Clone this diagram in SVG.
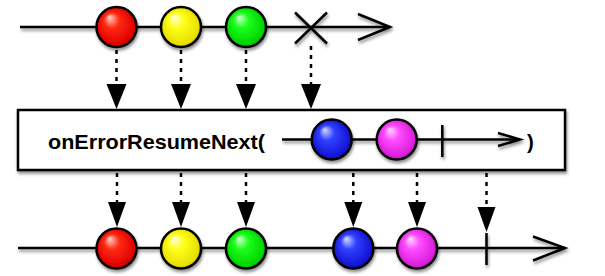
<svg xmlns="http://www.w3.org/2000/svg" width="605" height="276" viewBox="0 0 605 276">
<defs>
<filter id="sh" x="-20%" y="-20%" width="140%" height="160%">
<feDropShadow dx="1" dy="2.5" stdDeviation="1.6" flood-color="#000" flood-opacity="0.45"/>
</filter>
<radialGradient id="gRed" cx="0.5" cy="0.5" r="0.55" fx="0.32" fy="0.25">
<stop offset="0" stop-color="#ffd6cc"/><stop offset="0.35" stop-color="#ff2a12"/><stop offset="0.85" stop-color="#e00000"/><stop offset="1" stop-color="#a80000"/>
</radialGradient>
<radialGradient id="gYel" cx="0.5" cy="0.5" r="0.55" fx="0.32" fy="0.25">
<stop offset="0" stop-color="#ffffe6"/><stop offset="0.35" stop-color="#ffff1a"/><stop offset="0.85" stop-color="#e6e000"/><stop offset="1" stop-color="#b0a800"/>
</radialGradient>
<radialGradient id="gGrn" cx="0.5" cy="0.5" r="0.55" fx="0.32" fy="0.25">
<stop offset="0" stop-color="#d6ffd6"/><stop offset="0.35" stop-color="#1aff1a"/><stop offset="0.85" stop-color="#00d400"/><stop offset="1" stop-color="#009c00"/>
</radialGradient>
<radialGradient id="gBlu" cx="0.5" cy="0.5" r="0.55" fx="0.32" fy="0.25">
<stop offset="0" stop-color="#d6dcff"/><stop offset="0.35" stop-color="#3040ff"/><stop offset="0.85" stop-color="#1414d4"/><stop offset="1" stop-color="#00009c"/>
</radialGradient>
<radialGradient id="gPnk" cx="0.5" cy="0.5" r="0.55" fx="0.32" fy="0.25">
<stop offset="0" stop-color="#ffdcff"/><stop offset="0.35" stop-color="#ff4cff"/><stop offset="0.85" stop-color="#dc1edc"/><stop offset="1" stop-color="#9c009c"/>
</radialGradient>
</defs>
<style>
.ln{stroke:#000;stroke-width:2.5;fill:none;stroke-linecap:butt}
.hd{stroke:#000;stroke-width:2.5;fill:none;stroke-linejoin:miter}
.ball{stroke:#000;stroke-width:2.5}
.dot{stroke:#000;stroke-width:2.5;stroke-dasharray:4 5;fill:none}
.tri{fill:#000}
.lbl{font-family:"Liberation Sans",Arial,Helvetica,sans-serif;font-weight:bold;font-size:20.5px;fill:#000}
</style>
<rect width="605" height="276" fill="#fff"/>

<!-- top timeline -->
<g id="top-timeline" filter="url(#sh)">
<line class="ln" x1="20" y1="27" x2="390" y2="27"/>
<polyline class="hd" points="358,14 390,27 358,40"/>
<path class="ln" d="M295,12.5 L327,43.5 M327,12.5 L295,43.5"/>
</g>
<g id="top-red" filter="url(#sh)"><circle class="ball" cx="116.5" cy="27" r="20" fill="url(#gRed)"/></g>
<g id="top-yellow" filter="url(#sh)"><circle class="ball" cx="181" cy="27" r="20" fill="url(#gYel)"/></g>
<g id="top-green" filter="url(#sh)"><circle class="ball" cx="246" cy="27" r="20" fill="url(#gGrn)"/></g>

<!-- operator box -->
<g id="operator">
<rect x="18" y="110" width="547" height="60" fill="#fff" stroke="#000" stroke-width="2.5" filter="url(#sh)"/>
<text class="lbl" x="48" y="148.5" textLength="217" lengthAdjust="spacingAndGlyphs">onErrorResumeNext(</text>
<g filter="url(#sh)">
<line class="ln" x1="282" y1="139.5" x2="520" y2="139.5"/>
<polyline class="hd" points="498,133 520,139.5 498,146"/>
<line class="ln" x1="442.3" y1="125" x2="442.3" y2="157"/>
</g>
<g id="inner-blue" filter="url(#sh)"><circle class="ball" cx="331.7" cy="139.5" r="20" fill="url(#gBlu)"/></g>
<g id="inner-pink" filter="url(#sh)"><circle class="ball" cx="396.7" cy="139.5" r="20" fill="url(#gPnk)"/></g>
<text class="lbl" x="527" y="148.5">)</text>
</g>

<!-- connectors -->
<g id="connectors">
<line class="dot" x1="116.5" y1="50" x2="116.5" y2="84"/><polygon class="tri" points="106.5,84 126.5,84 116.5,109"/>
<line class="dot" x1="181" y1="50" x2="181" y2="84"/><polygon class="tri" points="171,84 191,84 181,109"/>
<line class="dot" x1="246" y1="50" x2="246" y2="84"/><polygon class="tri" points="236,84 256,84 246,109"/>
<line class="dot" x1="311" y1="46" x2="311" y2="84"/><polygon class="tri" points="301,84 321,84 311,109"/>

<line class="dot" x1="117" y1="173" x2="117" y2="202"/><polygon class="tri" points="108,202 126,202 117,227"/>
<line class="dot" x1="181" y1="173" x2="181" y2="202"/><polygon class="tri" points="172,202 190,202 181,227"/>
<line class="dot" x1="246" y1="173" x2="246" y2="202"/><polygon class="tri" points="237,202 255,202 246,227"/>
<line class="dot" x1="353.3" y1="173" x2="353.3" y2="202"/><polygon class="tri" points="344.3,202 362.3,202 353.3,227"/>
<line class="dot" x1="417" y1="173" x2="417" y2="202"/><polygon class="tri" points="408,202 426,202 417,227"/>
<line class="dot" x1="486.5" y1="173" x2="486.5" y2="207"/><polygon class="tri" points="477.5,207 495.5,207 486.5,232"/>
</g>

<!-- bottom timeline -->
<g id="bottom-timeline" filter="url(#sh)">
<line class="ln" x1="18" y1="248" x2="565" y2="248"/>
<polyline class="hd" points="533,236.5 565,248 533,260.5"/>
<line class="ln" x1="486.5" y1="233" x2="486.5" y2="265"/>
</g>
<g id="bottom-red" filter="url(#sh)"><circle class="ball" cx="116.5" cy="248.5" r="20" fill="url(#gRed)"/></g>
<g id="bottom-yellow" filter="url(#sh)"><circle class="ball" cx="181" cy="248.5" r="20" fill="url(#gYel)"/></g>
<g id="bottom-green" filter="url(#sh)"><circle class="ball" cx="246" cy="248.5" r="20" fill="url(#gGrn)"/></g>
<g id="bottom-blue" filter="url(#sh)"><circle class="ball" cx="353.3" cy="248.5" r="20" fill="url(#gBlu)"/></g>
<g id="bottom-pink" filter="url(#sh)"><circle class="ball" cx="417" cy="248.5" r="20" fill="url(#gPnk)"/></g>
</svg>
